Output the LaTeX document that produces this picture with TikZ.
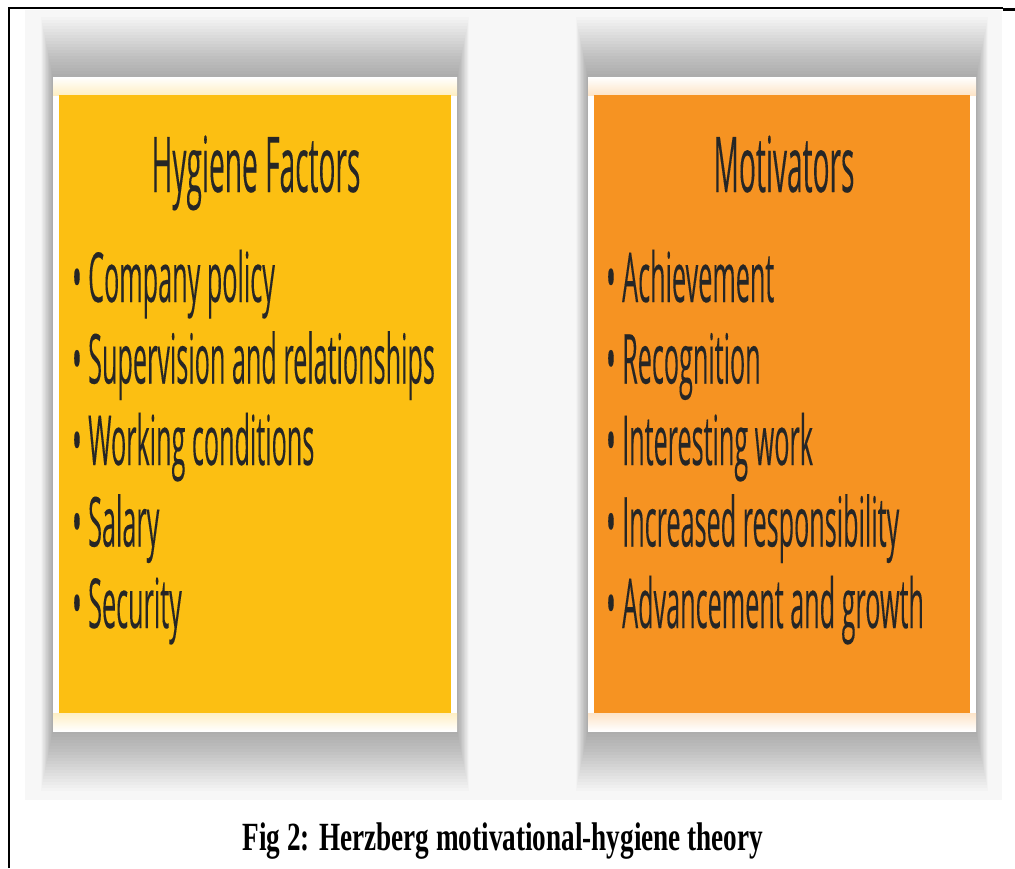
\documentclass[tikz,border=0pt]{standalone}
\usepackage{fontspec}
\setmainfont{Liberation Serif}
\newfontfamily\cardfont[FakeStretch=0.365, FakeBold=0.1]{Open Sans}
\newfontfamily\capfont[FakeStretch=0.68]{Liberation Serif}
\definecolor{bgpanel}{HTML}{F7F7F7}
\definecolor{yel}{HTML}{FCBF12}
\definecolor{org}{HTML}{F69322}
\definecolor{ink}{HTML}{262626}
\tikzset{
  frameline/.style={line width=2.2pt, black},
  titletext/.style={font=\cardfont\fontsize{77}{77}\selectfont, text=ink, inner sep=0pt, anchor=base},
  itemtext/.style={font=\cardfont\fontsize{69}{69}\selectfont, text=ink, inner sep=0pt, anchor=base west},
  captext/.style={font=\capfont\bfseries\fontsize{40}{40}\selectfont, text=black, inner sep=0pt, anchor=base},
  shadowlayer/.style={fill=black, fill opacity=0.016},
}
\newcommand{\cardshadow}[2]{%
  \foreach \i in {1,...,20}{%
    \fill[shadowlayer] (#1-0.6*\i,77-3*\i) rectangle (#2+0.6*\i,731+3*\i);
  }%
}
\newcommand{\cardbody}[5]{% x1 x2 ix1 ix2 color
  \fill[white] (#1,77) rectangle (#2,731);
  \shade[top color=white, bottom color=#5!25!white] (#1,77) rectangle (#2,95);
  \shade[top color=#5!25!white, bottom color=white] (#1,713) rectangle (#2,731);
  \fill[#5] (#3,95) rectangle (#4,713);
}
\begin{document}
\begin{tikzpicture}[x=1pt,y=-1pt]
\useasboundingbox (0,0) rectangle (1015,868);
\fill[white] (0,0) rectangle (1015,868);
\fill[bgpanel] (25,10) rectangle (1002,800);
% cards
\cardshadow{53}{457}
\cardshadow{588}{976}
\cardbody{53}{457}{59}{451}{yel}
\cardbody{588}{976}{594}{970}{org}
% left card text
\node[titletext] (hyg) at (256,192) {Hygiene Factors};
\node[itemtext] (h1) at (72,302) {• Company policy};
\node[itemtext] (h2) at (72,383.5) {• Supervision and relationships};
\node[itemtext] (h3) at (72,465) {• Working conditions};
\node[itemtext] (h4) at (72,546.5) {• Salary};
\node[itemtext] (h5) at (72,628) {• Security};
% right card text
\node[titletext] (mot) at (784,192) {Motivators};
\node[itemtext] (m1) at (606,302) {• Achievement};
\node[itemtext] (m2) at (606,383.5) {• Recognition};
\node[itemtext] (m3) at (606,465) {• Interesting work};
\node[itemtext] (m4) at (606,546.5) {• Increased responsibility};
\node[itemtext] (m5) at (606,628) {• Advancement and growth};
% caption
\node[captext] (cap) at (503,850) {Fig 2: Herzberg motivational-hygiene theory};
% frame
\draw[frameline] (9,868) -- (9,8) -- (1003,8);
\draw[line width=2.6pt] (1003,9.3) -- (1015,9.3);
\end{tikzpicture}
\end{document}
